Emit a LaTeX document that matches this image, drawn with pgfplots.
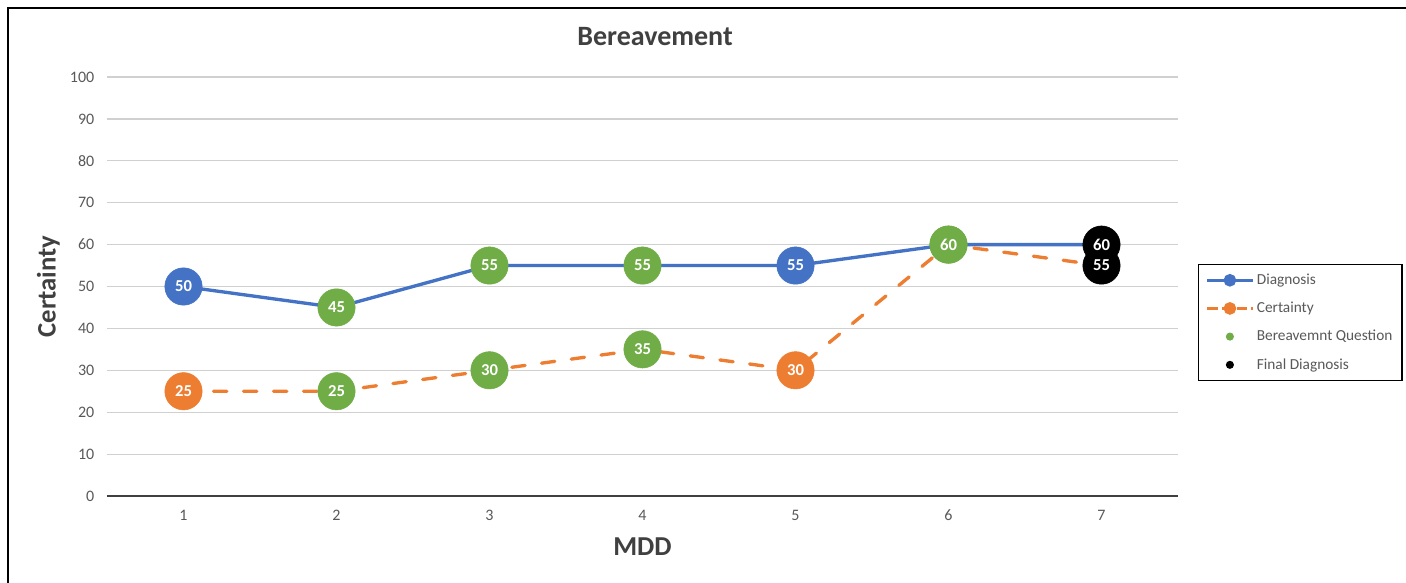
\documentclass[border=0pt]{standalone}
\usepackage{pgfplots}
\pgfplotsset{compat=1.18}
\usepackage{fontspec}
\setmainfont{Carlito}

\definecolor{cBlue}{HTML}{4472C4}
\definecolor{cBlueDark}{HTML}{2F528F}
\definecolor{cOrange}{HTML}{ED7D31}
\definecolor{cGreen}{HTML}{70AD47}
\definecolor{cTick}{HTML}{595959}
\definecolor{cLabel}{HTML}{404040}
\definecolor{cGrid}{HTML}{D0D0D0}
\definecolor{cAxis}{HTML}{404040}

\pgfplotsset{
  % coloured circles, one colour per stage of the interview
  pointclasses/.style={
    scatter, only marks, mark=*, mark size=14pt,
    scatter src=explicit symbolic,
    scatter/classes={
      b={mark=*, cBlue},
      bd={mark=*, cBlue, mark options={fill=cBlue, draw=cBlueDark, line width=0.8pt}},
      o={mark=*, cOrange},
      g={mark=*, cGreen},
      k={mark=*, black}},
    forget plot},
  % value labels written on top of the circles
  valuelabels/.style={
    only marks, mark=none, point meta=y,
    nodes near coords={\pgfmathprintnumber{\pgfplotspointmeta}},
    every node near coord/.append style={anchor=center, text=white,
      font=\fontsize{12.5pt}{14pt}\selectfont\bfseries},
    forget plot},
}

\begin{document}
\begin{tikzpicture}
\useasboundingbox (0,0) rectangle (1054.5pt,-436.5pt);
\fill[white] (0,0) rectangle (1054.5pt,-436.5pt);
\draw[line width=1.5pt] (6pt,-445pt) -- (6pt,-6pt) -- (1065pt,-6pt);

\begin{axis}[
  at={(80.25pt,-372pt)}, anchor=south west,
  scale only axis, width=803.25pt, height=314.25pt,
  xmin=0.5, xmax=7.5, ymin=0, ymax=100,
  xtick={1,...,7}, ytick={0,10,...,100},
  ymajorgrids, major grid style={cGrid, line width=0.9pt},
  separate axis lines,
  axis x line*=bottom, axis y line*=left,
  x axis line style={cAxis, line width=1.6pt},
  y axis line style={draw=none},
  major tick length=0pt,
  /pgf/number format/assume math mode=true,
  ticklabel style={text=cTick, font=\fontsize{12pt}{14pt}\selectfont},
  yticklabel shift=6pt,
  xticklabel shift=7pt,
  clip=false,
  title={Bereavement},
  title style={at={(axis description cs:0.5117,1.0764)}, anchor=center,
    text=cLabel, font=\fontsize{21pt}{25pt}\selectfont\bfseries},
  xlabel={MDD},
  xlabel style={at={(axis description cs:0.5,-0.121)}, anchor=center,
    text=cLabel, font=\fontsize{20.5pt}{24pt}\selectfont\bfseries},
  ylabel={Certainty},
  ylabel style={at={(axis description cs:-0.0548,0.5)}, anchor=center,
    text=cLabel, font=\fontsize{20pt}{24pt}\selectfont\bfseries},
  legend style={at={(axis description cs:1.0187,0.5537)}, anchor=north west,
    draw=black, line width=1pt, text=cTick,
    font=\fontsize{11.5pt}{13pt}\selectfont,
    cells={anchor=west}, row sep=7.7pt, inner xsep=5.2pt, inner ysep=5pt},
  legend image code/.code={%
    \draw[mark repeat=2, mark phase=2, #1]
      plot coordinates {(0pt,0pt) (17pt,0pt) (34pt,0pt)};},
]

% legend entries
\addlegendimage{cBlue, line width=2.4pt, mark=*, mark size=3.5pt}
\addlegendentry{Diagnosis}
\addlegendimage{cOrange, line width=2.4pt, dash pattern=on 8pt off 3pt, mark=*, mark size=3.5pt, mark options={solid}}
\addlegendentry{Certainty}
\addlegendimage{legend image code/.code={\fill[cGreen] (17pt,0pt) circle (2.5pt);}}
\addlegendentry{Bereavemnt Question}
\addlegendimage{legend image code/.code={\fill[black] (17pt,0pt) circle (2.5pt);}}
\addlegendentry{Final Diagnosis}

% Diagnosis
\addplot[cBlue, line width=2.5pt, forget plot] coordinates {
  (1,50) (2,45) (3,55) (4,55) (5,55) (6,60) (7,60)};
\addplot[pointclasses] coordinates {
  (1,50) [b] (2,45) [g] (3,55) [g] (4,55) [g] (5,55) [bd] (6,60) [g] (7,60) [k]};

% Certainty
\addplot[cOrange, line width=2.5pt, line cap=round, dash pattern=on 10pt off 12.5pt, forget plot] coordinates {
  (1,25) (2,25) (3,30) (4,35) (5,30) (6,60) (7,55)};
\addplot[pointclasses] coordinates {
  (1,25) [o] (2,25) [g] (3,30) [g] (4,35) [g] (5,30) [o] (6,60) [g] (7,55) [k]};

% value labels
\addplot[valuelabels] coordinates {
  (1,50) (2,45) (3,55) (4,55) (5,55) (6,60) (7,60)};
\addplot[valuelabels] coordinates {
  (1,25) (2,25) (3,30) (4,35) (5,30) (7,55)};

\end{axis}
\end{tikzpicture}
\end{document}
